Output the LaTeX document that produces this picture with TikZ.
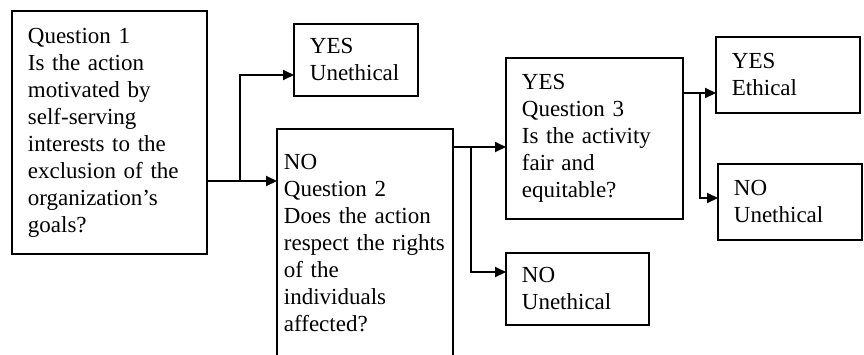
\documentclass[tikz,border=0pt]{standalone}
\usepackage{fontspec}
\setmainfont{Liberation Serif}
\usetikzlibrary{positioning,arrows.meta}

\tikzset{
    qbox/.style={draw, line width=1.8pt, anchor=north west, align=left,
        inner xsep=16pt, inner ysep=0pt,
        font=\fontsize{23}{27}\selectfont},
    flow/.style={line width=2pt, -{Triangle[length=11pt,width=10pt]}, shorten >=-1pt}
}

\begin{document}
\begin{tikzpicture}[x=1pt,y=-1pt]
    \useasboundingbox (0,0) rectangle (864,354);

    % Boxes
    \node[qbox, minimum width=195, minimum height=243, text width=163] (q1) at (11,10)
        {Question 1\\Is the action\\motivated by\\self-serving\\interests to the\\exclusion of the\\organization’s\\goals?};
    \node[qbox, minimum width=124, minimum height=72, text width=92] (yes1) at (293,23)
        {YES\\Unethical};
    \node[qbox, inner xsep=7pt, minimum width=176, minimum height=228, text width=162] (q2) at (276,128)
        {NO\\Question 2\\Does the action\\respect the rights\\of the\\individuals\\affected?};
    \node[qbox, minimum width=177, minimum height=161, text width=145] (q3) at (505,57)
        {YES\\Question 3\\Is the activity\\fair and\\equitable?};
    \node[qbox, minimum width=143, minimum height=72, text width=111] (no2) at (505,252)
        {NO\\Unethical};
    \node[qbox, minimum width=144, minimum height=76, text width=112] (yes3) at (715,36)
        {YES\\Ethical};
    \node[qbox, minimum width=144, minimum height=76, text width=112] (no3) at (717,163)
        {NO\\Unethical};

    % Branch points
    \coordinate (s1) at (240,181);
    \coordinate (t1) at (240,75);
    \coordinate (s2) at (471,147);
    \coordinate (t2) at (471,272);
    \coordinate (s3) at (700,93);
    \coordinate (t3) at (700,198);

    % Connectors
    \draw[flow] (q1.east |- s1) -- (q2.west |- s1);
    \draw[flow] (s1) -- (t1) -- (yes1.west |- t1);
    \draw[flow] (q2.east |- s2) -- (q3.west |- s2);
    \draw[flow] (s2) -- (t2) -- (no2.west |- t2);
    \draw[flow] (q3.east |- s3) -- (yes3.west |- s3);
    \draw[flow] (s3) -- (t3) -- (no3.west |- t3);
\end{tikzpicture}
\end{document}
